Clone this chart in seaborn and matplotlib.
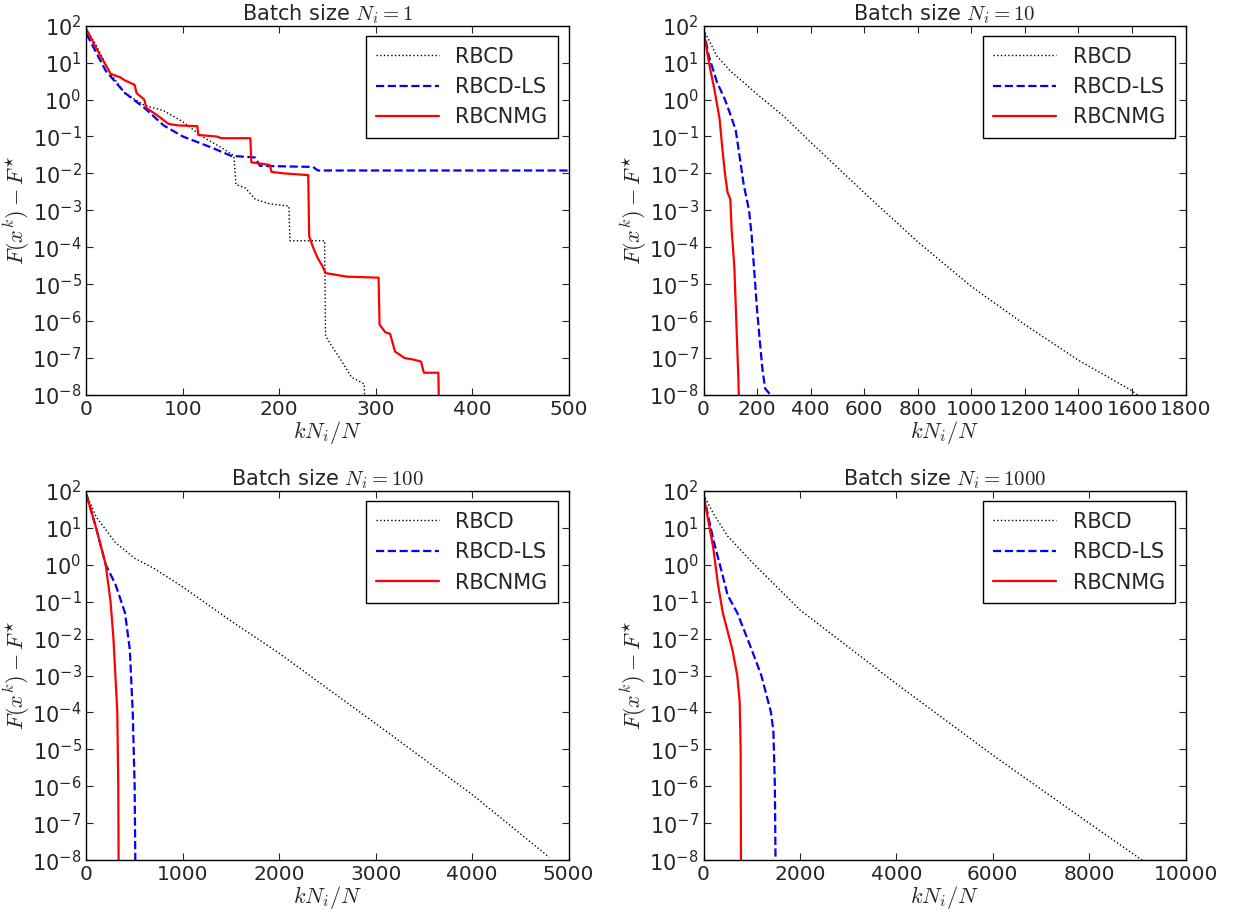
import matplotlib
matplotlib.use("Agg")
import matplotlib.pyplot as plt
import seaborn as sns
import pandas as pd

sns.set_style("ticks")
plt.rcParams.update({
    "xtick.direction": "in", "ytick.direction": "in",
    "xtick.top": True, "ytick.right": True,
    "xtick.major.size": 5, "ytick.major.size": 5,
    "ytick.minor.size": 0, "xtick.minor.size": 0,
    "xtick.labelsize": 14.5, "ytick.labelsize": 15,
    "font.size": 14, "mathtext.fontset": "cm",
    "legend.fancybox": False, "legend.edgecolor": "black",
    "axes.edgecolor": "black", "axes.linewidth": 1.0,
})
plt.rcParams["font.family"] = ["DejaVu Sans"]

# panel 1: N_i = 1
p1_rbcd_x = [0, 10, 25, 40, 60, 80, 100, 120, 140, 153, 155, 165, 175, 190, 210, 211, 247, 248, 255, 265, 275, 288, 290]
p1_rbcd_y = [80, 30, 5, 1.5, 0.7, 0.5, 0.25, 0.1, 0.05, 0.03, 0.005, 0.004, 0.002, 0.0015, 0.0013, 0.00015, 0.00015,
             4e-7, 2e-7, 8e-8, 3e-8, 2e-8, 1e-9]
p1_ls_x = [0, 20, 40, 60, 80, 100, 130, 150, 175, 180, 235, 240, 500]
p1_ls_y = [60, 6, 1.5, 0.6, 0.2, 0.1, 0.05, 0.03, 0.027, 0.016, 0.015, 0.012, 0.012]
p1_nmg_x = [0, 10, 25, 35, 40, 50, 52, 60, 62, 75, 85, 95, 115, 116, 135, 140, 170, 171, 190, 192, 205, 230, 231,
            235, 240, 245, 248, 270, 303, 304, 310, 315, 320, 330, 340, 347, 350, 365, 366]
p1_nmg_y = [80, 25, 5, 4, 3.3, 2.5, 1.5, 1.0, 0.6, 0.35, 0.22, 0.2, 0.19, 0.11, 0.1, 0.09, 0.09, 0.02, 0.017, 0.011,
            0.01, 0.009, 0.0002, 0.0001, 5e-5, 3e-5, 2e-5, 1.6e-5, 1.5e-5, 8e-7, 5e-7, 4.5e-7, 1.5e-7, 1e-7, 9e-8,
            8e-8, 4e-8, 4e-8, 1e-9]

# panel 2: N_i = 10
p2_rbcd_x = [0, 50, 100, 200, 300, 400, 600, 800, 1000, 1200, 1400, 1600, 1620]
p2_rbcd_y = [80, 15, 6, 1.4, 0.35, 0.07, 0.003, 1.4e-4, 8.7e-6, 8e-7, 8.7e-8, 1.3e-8, 1e-8]
p2_ls_x = [0, 20, 50, 80, 100, 120, 130, 150, 170, 180, 190, 200, 210, 220, 230, 250]
p2_ls_y = [80, 15, 3, 1, 0.4, 0.15, 0.05, 0.005, 0.001, 0.0002, 2e-5, 2e-6, 3e-7, 5e-8, 1.5e-8, 1e-8]
p2_nmg_x = [0, 20, 40, 60, 70, 80, 90, 100, 105, 115, 120, 125, 130, 135]
p2_nmg_y = [80, 10, 2, 0.3, 0.05, 0.01, 0.003, 0.002, 0.0003, 3e-5, 3e-6, 3e-7, 3e-8, 1e-9]

# panel 3: N_i = 100
p3_rbcd_x = [0, 100, 300, 500, 700, 1000, 1500, 2000, 3000, 4000, 4800]
p3_rbcd_y = [80, 20, 4, 1.5, 0.8, 0.25, 0.03, 0.004, 5e-5, 6e-7, 1.2e-8]
p3_ls_x = [0, 100, 200, 300, 400, 450, 480, 500, 510]
p3_ls_y = [80, 10, 1, 0.3, 0.05, 0.005, 1e-4, 1e-6, 1e-9]
p3_nmg_x = [0, 100, 200, 250, 280, 300, 320, 330, 335]
p3_nmg_y = [80, 10, 1, 0.1, 0.01, 0.001, 1e-4, 1e-6, 1e-9]

# panel 4: N_i = 1000
p4_rbcd_x = [0, 200, 500, 1000, 2000, 4000, 6000, 8000, 9100]
p4_rbcd_y = [80, 25, 6, 1.2, 0.06, 0.0006, 7e-6, 1e-7, 1e-8]
p4_ls_x = [0, 200, 400, 500, 700, 1000, 1200, 1400, 1450, 1480, 1500]
p4_ls_y = [80, 5, 0.5, 0.15, 0.05, 0.005, 0.001, 1e-4, 3e-5, 1e-6, 1e-9]
p4_nmg_x = [0, 200, 300, 400, 600, 700, 750, 770, 780]
p4_nmg_y = [80, 3, 0.3, 0.05, 0.005, 0.001, 2e-4, 1e-5, 1e-9]

panels = [
    ("1", 500, [0, 100, 200, 300, 400, 500], (p1_rbcd_x, p1_rbcd_y), (p1_ls_x, p1_ls_y), (p1_nmg_x, p1_nmg_y)),
    ("10", 1800, list(range(0, 1801, 200)), (p2_rbcd_x, p2_rbcd_y), (p2_ls_x, p2_ls_y), (p2_nmg_x, p2_nmg_y)),
    ("100", 5000, list(range(0, 5001, 1000)), (p3_rbcd_x, p3_rbcd_y), (p3_ls_x, p3_ls_y), (p3_nmg_x, p3_nmg_y)),
    ("1000", 10000, list(range(0, 10001, 2000)), (p4_rbcd_x, p4_rbcd_y), (p4_ls_x, p4_ls_y), (p4_nmg_x, p4_nmg_y)),
]

styles = [("RBCD", "black", ":", 1.0), ("RBCD-LS", "blue", "--", 1.6), ("RBCNMG", "red", "-", 1.6)]

fig, axes = plt.subplots(2, 2, figsize=(12.35, 9.19), dpi=100)
for ax, (ni, xmax, xt, *series) in zip(axes.flat, panels):
    for (lab, col, ls, lw), (xs, ys) in zip(styles, series):
        df = pd.DataFrame({"x": xs, "y": ys})
        sns.lineplot(data=df, x="x", y="y", ax=ax, color=col, linestyle=ls, linewidth=lw,
                     label=lab, sort=False, estimator=None)
    ax.set_yscale("log")
    ax.set_ylim(1e-8, 1e2)
    ax.set_xlim(0, xmax)
    ax.set_xticks(xt)
    ax.set_yticks([10.0 ** e for e in range(-8, 3)])
    ax.minorticks_off()
    ax.set_title(r"Batch size $N_i = %s$" % ni, fontsize=15, pad=3)
    ax.set_xlabel(r"$kN_i/N$", fontsize=16, labelpad=0)
    ax.set_ylabel(r"$F(x^k) - F^{\star}$", fontsize=16, labelpad=0)
    ax.legend(loc="upper right", fontsize=15, handlelength=3, borderpad=0.5, labelspacing=0.5, framealpha=1)

plt.subplots_adjust(left=0.07, right=0.96, top=0.972, bottom=0.064, wspace=0.28, hspace=0.26)
fig.savefig("out.png")
